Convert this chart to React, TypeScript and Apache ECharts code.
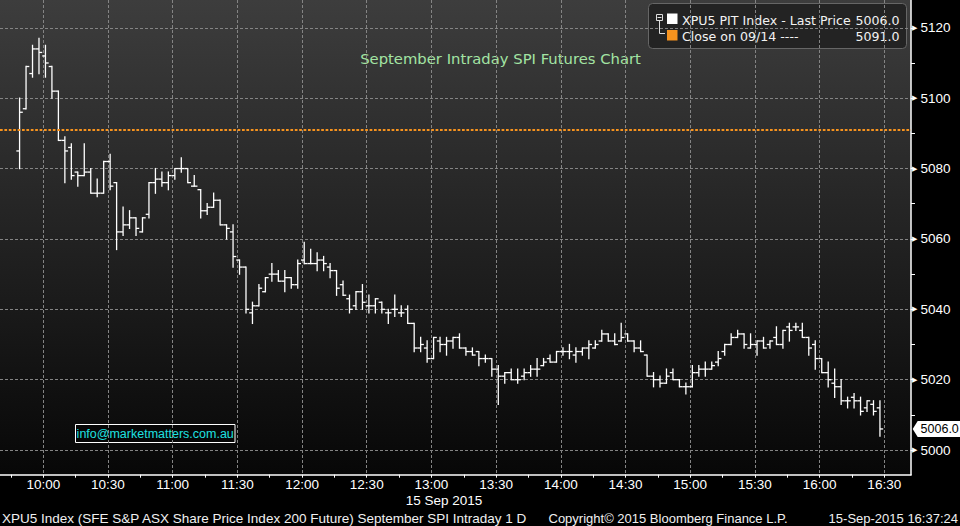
import React, { useEffect, useRef } from "react";
import * as echarts from "echarts";

// 3-minute bars, first bar at 09:49 (minutes from midnight)
const START_MIN = 589;
const BAR_MIN = 3;

const OPEN = [
  5085, 5097, 5107, 5114, 5112, 5109, 5102, 5088, 5086, 5079, 5078, 5079, 5073, 5073, 5082, 5076, 5062, 5064, 5066, 5062,
  5067, 5076, 5077, 5076, 5078, 5080, 5080, 5075, 5074, 5068, 5069, 5071, 5064, 5062, 5054, 5052, 5039, 5041, 5045, 5050,
  5050, 5048, 5049, 5047, 5054, 5053, 5053, 5054, 5052, 5051, 5047, 5043, 5041, 5045, 5041, 5041, 5042, 5039, 5040, 5039,
  5040, 5036, 5029, 5029, 5026, 5031, 5030, 5031, 5032, 5029, 5028, 5028, 5026, 5026, 5023, 5021, 5022, 5020, 5021, 5022,
  5023, 5024, 5026, 5025, 5028, 5028, 5027, 5028, 5029, 5029, 5031, 5033, 5031, 5031, 5033, 5031, 5029, 5027, 5021, 5020,
  5019, 5022, 5020, 5018, 5018, 5022, 5023, 5023, 5025, 5028, 5030, 5032, 5033, 5029, 5030, 5031, 5030, 5032, 5030, 5035,
  5035, 5034, 5032, 5030, 5026, 5022, 5019, 5018, 5014, 5015, 5014, 5012, 5013, 5012,
];
const HIGH = [
  5100, 5109, 5115, 5117, 5115, 5109, 5102, 5089, 5087, 5079, 5087, 5080, 5077, 5082, 5084, 5076, 5069, 5068, 5066, 5066,
  5076, 5080, 5079, 5079, 5080, 5083, 5080, 5078, 5074, 5070, 5073, 5071, 5064, 5064, 5054, 5052, 5042, 5047, 5049, 5053,
  5051, 5051, 5049, 5054, 5059, 5057, 5056, 5055, 5053, 5051, 5048, 5044, 5045, 5047, 5044, 5043, 5042, 5040, 5044, 5041,
  5041, 5036, 5032, 5031, 5032, 5032, 5032, 5032, 5033, 5029, 5029, 5028, 5027, 5026, 5024, 5022, 5023, 5023, 5023, 5024,
  5026, 5026, 5027, 5028, 5029, 5030, 5029, 5029, 5031, 5031, 5034, 5033, 5033, 5036, 5033, 5031, 5031, 5027, 5022, 5021,
  5023, 5023, 5020, 5019, 5024, 5024, 5025, 5025, 5028, 5030, 5033, 5034, 5033, 5033, 5031, 5032, 5031, 5035, 5034, 5036,
  5036, 5036, 5032, 5031, 5026, 5025, 5023, 5020, 5015, 5016, 5015, 5014, 5014, 5014,
];
const LOW = [
  5080, 5097, 5106, 5107, 5106, 5100, 5088, 5076, 5077, 5075, 5078, 5073, 5072, 5073, 5074, 5057, 5061, 5063, 5061, 5062,
  5066, 5073, 5075, 5074, 5077, 5079, 5076, 5075, 5066, 5067, 5069, 5064, 5060, 5052, 5050, 5039, 5036, 5041, 5045, 5048,
  5048, 5045, 5046, 5046, 5053, 5053, 5051, 5051, 5049, 5044, 5044, 5039, 5040, 5040, 5039, 5039, 5039, 5036, 5038, 5038,
  5036, 5028, 5028, 5025, 5026, 5028, 5027, 5029, 5029, 5027, 5027, 5024, 5025, 5021, 5013, 5019, 5020, 5019, 5020, 5021,
  5021, 5024, 5025, 5025, 5027, 5026, 5025, 5027, 5026, 5029, 5031, 5031, 5030, 5031, 5031, 5028, 5028, 5021, 5018, 5018,
  5019, 5020, 5018, 5016, 5018, 5021, 5021, 5023, 5024, 5027, 5030, 5032, 5029, 5029, 5027, 5029, 5029, 5030, 5029, 5031,
  5034, 5032, 5027, 5023, 5022, 5018, 5015, 5013, 5012, 5012, 5010, 5011, 5010, 5004,
];
const CLOSE = [
  5096, 5109, 5114, 5113, 5110, 5102, 5088, 5085, 5078, 5078, 5079, 5073, 5073, 5082, 5075, 5062, 5064, 5066, 5063, 5066,
  5076, 5077, 5076, 5078, 5080, 5080, 5076, 5075, 5068, 5069, 5071, 5064, 5063, 5055, 5052, 5040, 5041, 5046, 5049, 5050,
  5048, 5049, 5047, 5053, 5053, 5053, 5054, 5053, 5051, 5046, 5044, 5040, 5045, 5042, 5041, 5043, 5040, 5039, 5040, 5039,
  5036, 5029, 5030, 5026, 5032, 5030, 5031, 5032, 5029, 5028, 5027, 5026, 5026, 5023, 5021, 5022, 5020, 5020, 5022, 5023,
  5023, 5025, 5025, 5028, 5028, 5028, 5028, 5029, 5030, 5030, 5033, 5031, 5030, 5032, 5031, 5029, 5028, 5021, 5020, 5019,
  5021, 5020, 5018, 5018, 5022, 5023, 5023, 5024, 5026, 5030, 5032, 5033, 5030, 5030, 5031, 5029, 5031, 5030, 5034, 5034,
  5035, 5032, 5029, 5026, 5022, 5020, 5018, 5014, 5014, 5014, 5011, 5014, 5011, 5006,
];

const PREV_CLOSE = 5091;
const LAST_PRICE = 5006;

const X_LABELS = [600, 630, 660, 690, 720, 750, 780, 810, 840, 870, 900, 930, 960, 990];
const X_TICKS = [585, 600, 615, 630, 645, 660, 675, 690, 705, 720, 735, 750, 765, 780, 795, 810, 825, 840, 855, 870, 885, 900, 915, 930, 945, 960, 975, 990];
const Y_LABELS = [5000, 5020, 5040, 5060, 5080, 5100, 5120];
const Y_TICKS = [5000, 5010, 5020, 5030, 5040, 5050, 5060, 5070, 5080, 5090, 5100, 5110, 5120];

const X_MIN = 579.92;
const X_MAX = 1002.4;
const Y_MIN = 4993;
const Y_MAX = 5127.9;

const FONT = "'Liberation Sans', Arial, sans-serif";
const WIDE = "'DejaVu Sans', Verdana, sans-serif";

function fmtTime(v: number) {
  const h = Math.floor(v / 60);
  const m = Math.round(v - h * 60);
  return `${h}:${String(m).padStart(2, "0")}`;
}

export default function App() {
  const ref = useRef<HTMLDivElement>(null);
  useEffect(() => {
    const chart = echarts.init(ref.current!, undefined, { renderer: "svg", width: 960, height: 526 });
    const data = OPEN.map((o, i) => [START_MIN + i * BAR_MIN, o, HIGH[i], LOW[i], CLOSE[i]]);

    const option: any = {
      animation: false,
      backgroundColor: "#000",
      textStyle: { fontFamily: FONT },
      grid: {
        left: 0,
        right: 49,
        top: 0,
        bottom: 51.3,
        show: true,
        borderWidth: 0,
        backgroundColor: new echarts.graphic.LinearGradient(0, 0, 0, 1, [
          { offset: 0, color: "#3d3d3d" },
          { offset: 1, color: "#070707" },
        ]),
      },
      xAxis: [
        {
          type: "value",
          min: X_MIN,
          max: X_MAX,
          position: "bottom",
          axisLine: { show: true, lineStyle: { color: "#fff", width: 1.5 } },
          axisTick: { show: true, customValues: X_TICKS, length: 3, lineStyle: { color: "#fff", width: 1 } },
          axisLabel: {
            customValues: X_LABELS,
            formatter: (v: number) => fmtTime(v),
            color: "#fff",
            fontSize: 13.5,
            fontFamily: FONT,
            margin: 3,
          },
          splitLine: { show: false },
        },
        {
          type: "value",
          min: X_MIN,
          max: X_MAX,
          position: "top",
          axisLine: { show: false },
          axisTick: { show: false, customValues: X_LABELS },
          axisLabel: { show: false },
          splitLine: { show: true, lineStyle: { color: "#848484", width: 1, type: [3, 2] } },
        },
      ],
      yAxis: [
        {
          type: "value",
          min: Y_MIN,
          max: Y_MAX,
          position: "right",
          axisLine: { show: true, lineStyle: { color: "#fff", width: 1.5 } },
          axisTick: { show: true, customValues: Y_TICKS, length: 4, lineStyle: { color: "#fff", width: 1 } },
          axisLabel: {
            customValues: Y_LABELS,
            formatter: (v: number) => `{t|▶}{v|${v}}`,
            margin: 1,
            rich: {
              t: { fontSize: 7, color: "#fff", fontFamily: WIDE },
              v: { fontSize: 13.5, color: "#fff", fontFamily: FONT, padding: [0, 0, 0, 3] },
            },
          },
          splitLine: { show: false },
        },
        {
          type: "value",
          min: Y_MIN,
          max: Y_MAX,
          position: "left",
          axisLine: { show: false },
          axisTick: { show: false, customValues: Y_LABELS },
          axisLabel: { show: false },
          splitLine: { show: true, lineStyle: { color: "#848484", width: 1, type: [3, 2] } },
        },
      ],
      series: [
        {
          type: "custom",
          xAxisIndex: 0,
          yAxisIndex: 0,
          data,
          encode: { x: 0, y: [1, 2, 3, 4] },
          clip: false,
          renderItem: (params: any, api: any) => {
            const t = api.value(0);
            const pO = api.coord([t, api.value(1)]);
            const pH = api.coord([t, api.value(2)]);
            const pL = api.coord([t, api.value(3)]);
            const pC = api.coord([t, api.value(4)]);
            const half = api.size([BAR_MIN, 0])[0] / 2;
            const x = pH[0];
            const style = { stroke: "#fff", lineWidth: 1.3 };
            return {
              type: "group",
              children: [
                { type: "line", shape: { x1: x, y1: pH[1] - 0.65, x2: x, y2: pL[1] + 0.65 }, style },
                { type: "line", shape: { x1: x - half, y1: pO[1], x2: x, y2: pO[1] }, style },
                { type: "line", shape: { x1: x, y1: pC[1], x2: x + half, y2: pC[1] }, style },
              ],
            };
          },
          markLine: {
            silent: true,
            symbol: "none",
            label: { show: false },
            lineStyle: { color: "#f7931e", width: 2, type: [2.7, 1.7], opacity: 1 },
            data: [{ yAxis: PREV_CLOSE }],
          },
          markPoint: {
            silent: true,
            symbol: "path://M0,8 L5,0 L48,0 L48,16 L5,16 Z",
            symbolSize: [48, 16],
            symbolKeepAspect: false,
            symbolOffset: [25.7, 0],
            itemStyle: { color: "#fff" },
            label: {
              show: true,
              position: "inside",
              offset: [3, 0],
              color: "#000",
              fontSize: 12.5,
              fontFamily: FONT,
              formatter: LAST_PRICE.toFixed(1),
            },
            data: [{ coord: [X_MAX, LAST_PRICE] }],
          },
        },
      ],
      graphic: [
        // title
        {
          type: "text",
          x: 500.5,
          y: 58,
          style: {
            text: "September Intraday SPI Futures Chart",
            fill: "#a3e4a3",
            font: `14.8px ${WIDE}`,
            textAlign: "center",
            textVerticalAlign: "middle",
          },
        },
        // legend box
        {
          type: "rect",
          shape: { x: 648.5, y: 3.5, width: 258, height: 45, r: 4 },
          style: { fill: "#232323", stroke: "#666", lineWidth: 1 },
        },
        { type: "rect", shape: { x: 656.5, y: 14.5, width: 6, height: 6 }, style: { fill: "none", stroke: "#ddd", lineWidth: 1 } },
        { type: "line", shape: { x1: 657.5, y1: 17.5, x2: 661.5, y2: 17.5 }, style: { stroke: "#ddd", lineWidth: 1 } },
        { type: "line", shape: { x1: 659.5, y1: 20.5, x2: 659.5, y2: 33.5 }, style: { stroke: "#ddd", lineWidth: 1 } },
        { type: "line", shape: { x1: 659.5, y1: 33.5, x2: 665, y2: 33.5 }, style: { stroke: "#ddd", lineWidth: 1 } },
        { type: "rect", shape: { x: 667, y: 13.5, width: 10.5, height: 10.5 }, style: { fill: "#fff" } },
        { type: "rect", shape: { x: 667, y: 30, width: 10.5, height: 10.5 }, style: { fill: "#f7931e" } },
        {
          type: "text",
          x: 682,
          y: 20.7,
          style: { text: "XPU5 PIT Index - Last Price", fill: "#f2f2f2", font: `12.6px ${WIDE}`, textVerticalAlign: "middle" },
        },
        {
          type: "text",
          x: 899.5,
          y: 20.7,
          style: { text: LAST_PRICE.toFixed(1), fill: "#f2f2f2", font: `12.6px ${WIDE}`, textAlign: "right", textVerticalAlign: "middle" },
        },
        {
          type: "text",
          x: 682,
          y: 36,
          style: { text: "Close on 09/14 ----", fill: "#f2f2f2", font: `12.6px ${WIDE}`, textVerticalAlign: "middle" },
        },
        {
          type: "text",
          x: 899.5,
          y: 36,
          style: { text: PREV_CLOSE.toFixed(1), fill: "#f2f2f2", font: `12.6px ${WIDE}`, textAlign: "right", textVerticalAlign: "middle" },
        },
        // info box
        {
          type: "rect",
          shape: { x: 75.5, y: 424.5, width: 159.5, height: 18 },
          style: { fill: "#060606", stroke: "#fff", lineWidth: 1 },
        },
        {
          type: "text",
          x: 155.2,
          y: 433.8,
          style: { text: "info@marketmatters.com.au", fill: "#1fe0e0", font: `12.5px ${FONT}`, textAlign: "center", textVerticalAlign: "middle" },
        },
        // date under axis
        {
          type: "text",
          x: 444,
          y: 500,
          style: { text: "15 Sep 2015", fill: "#fff", font: `13.5px ${FONT}`, textAlign: "center", textVerticalAlign: "middle" },
        },
        // footer
        {
          type: "text",
          x: 2,
          y: 518,
          style: {
            text: "XPU5 Index (SFE S&P ASX Share Price Index 200 Future) September SPI Intraday 1 D",
            fill: "#f0f0f0",
            font: `13.5px ${FONT}`,
            textVerticalAlign: "middle",
          },
        },
        {
          type: "text",
          x: 548.5,
          y: 518,
          style: { text: "Copyright© 2015 Bloomberg Finance L.P.", fill: "#f0f0f0", font: `13px ${FONT}`, textVerticalAlign: "middle" },
        },
        {
          type: "text",
          x: 958,
          y: 518,
          style: { text: "15-Sep-2015 16:37:24", fill: "#f0f0f0", font: `13px ${FONT}`, textAlign: "right", textVerticalAlign: "middle" },
        },
      ],
    };

    chart.setOption(option);
    return () => chart.dispose();
  }, []);

  return (
    <div
      ref={ref}
      style={{ position: "fixed", left: 0, top: 0, width: 960, height: 526, background: "#000" }}
    />
  );
}
